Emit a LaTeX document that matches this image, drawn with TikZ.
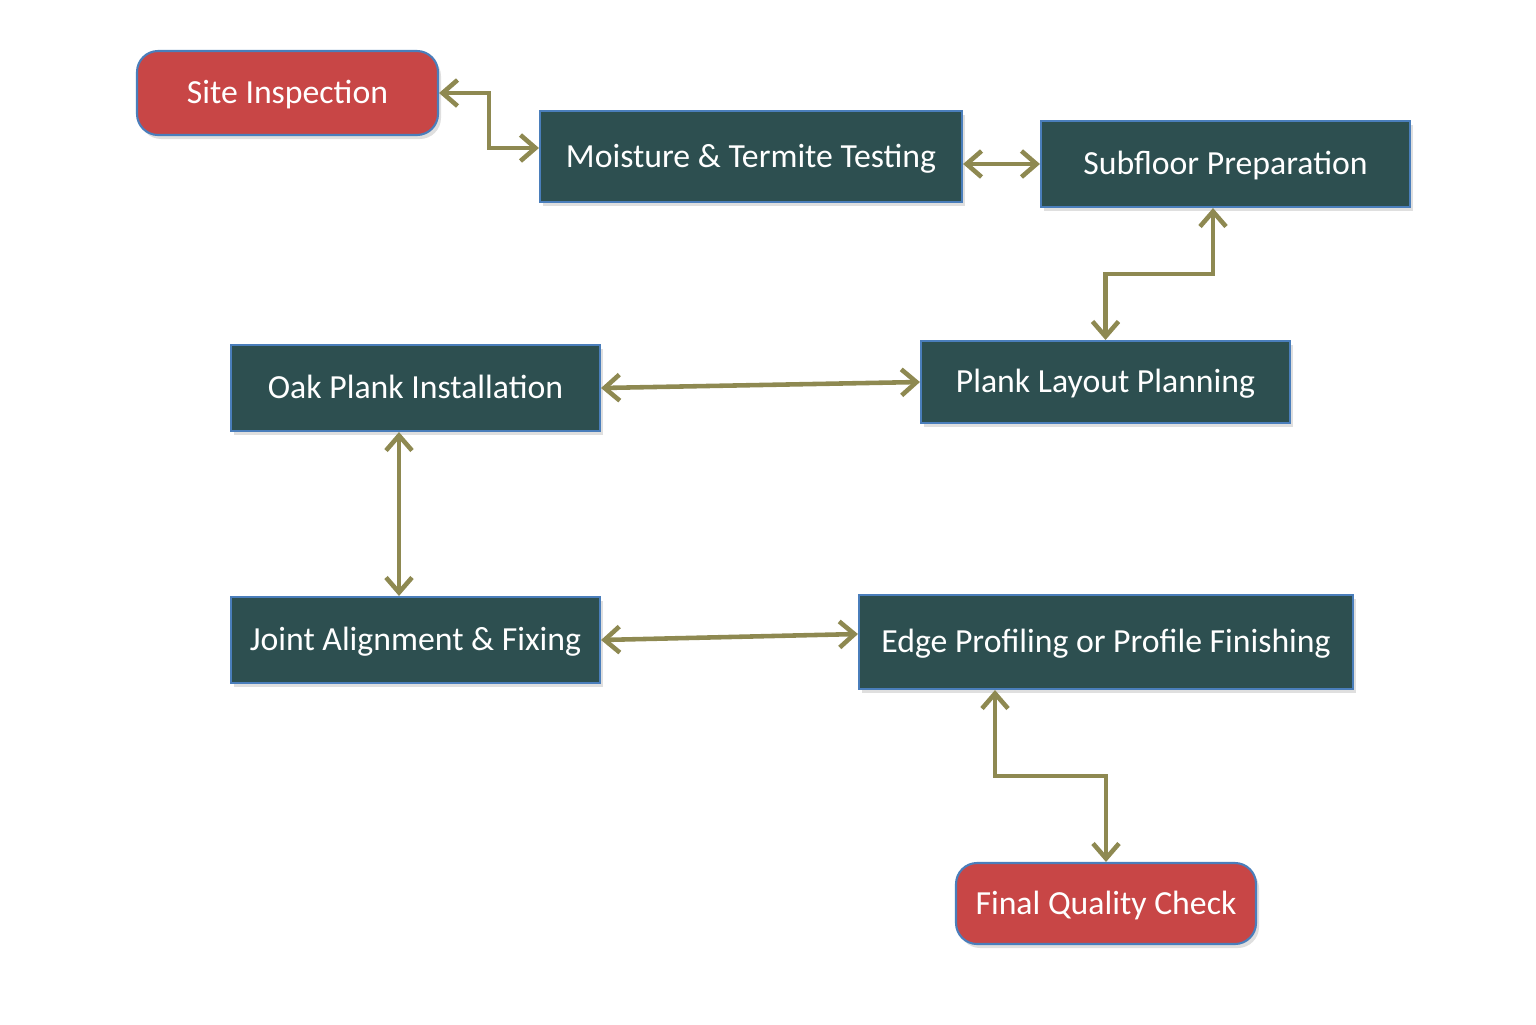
\documentclass[tikz,border=0pt]{standalone}
\usepackage{fontspec}
\setmainfont{Carlito}
\usepackage{tikz}
\usetikzlibrary{arrows.meta, positioning, calc, shadows}
\definecolor{stepred}{HTML}{C84646}
\definecolor{stepdark}{HTML}{2D4F50}
\definecolor{stepedge}{HTML}{4A7EBB}
\definecolor{linkolive}{HTML}{8E8951}

\begin{document}
\begin{tikzpicture}[
    stepbox/.style={draw=stepedge, line width=0.6pt, fill=#1, text=white,
                    font=\fontsize{9.6}{11}\selectfont, inner sep=0pt,
                    text height=6pt, text depth=0pt,
                    drop shadow={opacity=0.25, shadow xshift=0.03cm, shadow yshift=-0.04cm}},
    endbox/.style={stepbox=stepred, rounded corners=6pt},
    midbox/.style={stepbox=stepdark},
    link/.style={draw=linkolive, line width=1.3pt,
                 {Straight Barb[length=1.5mm, width=2.6mm]}-{Straight Barb[length=1.5mm, width=2.6mm]}},
]
    \useasboundingbox (0, 0) rectangle (15.36, -10.24);

    % first row
    \node[endbox, minimum width=3.01cm, minimum height=0.84cm] (site) at (2.875, -0.93) {Site Inspection};
    \node[midbox, minimum width=4.22cm, minimum height=0.91cm] (moist) at (7.51, -1.565) {Moisture \& Termite Testing};
    \node[midbox, minimum width=3.69cm, minimum height=0.86cm] (sub) at (12.255, -1.64) {Subfloor Preparation};

    % second row
    \node[midbox, minimum width=3.69cm, minimum height=0.82cm] (plan) at (11.055, -3.82) {Plank Layout Planning};
    \node[midbox, minimum width=3.69cm, minimum height=0.86cm] (oak) at (4.155, -3.88) {Oak Plank Installation};

    % third row
    \node[midbox, minimum width=3.69cm, minimum height=0.86cm] (joint) at (4.155, -6.40) {Joint Alignment \& Fixing};
    \node[midbox, minimum width=4.94cm, minimum height=0.94cm] (edge) at (11.06, -6.42) {Edge Profiling or Profile Finishing};

    % last step
    \node[endbox, minimum width=3.00cm, minimum height=0.81cm] (final) at (11.06, -9.035) {Final Quality Check};

    % connectors
    \draw[link] (site.east) -- ++(0.5, 0) |- ([yshift=0.085cm]moist.west);
    \draw[link] ([yshift=-0.075cm]moist.east) -- (sub.west);
    \draw[link] ([xshift=-0.125cm]sub.south) -- ++(0, -0.66) -| (plan.north);
    \draw[link] (oak.east) -- (plan.west);
    \draw[link] ([xshift=-0.165cm]oak.south) -- ([xshift=-0.165cm]joint.north);
    \draw[link] (joint.east) -- ([yshift=0.08cm]edge.west);
    \draw[link] ([xshift=-1.11cm]edge.south) -- ++(0, -0.86) -| (final.north);
\end{tikzpicture}
\end{document}
